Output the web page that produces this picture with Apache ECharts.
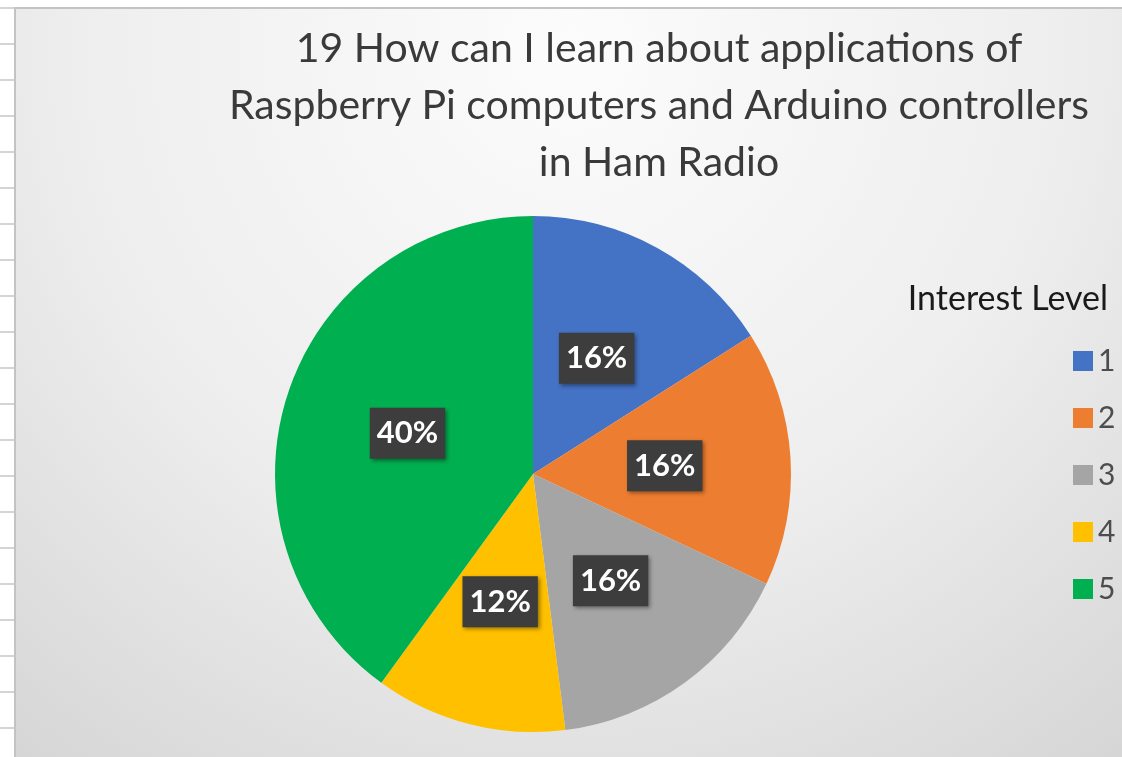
<!DOCTYPE html>
<html><head><meta charset="utf-8">
<script src="https://cdn.jsdelivr.net/npm/echarts@6/dist/echarts.min.js"></script>
<style>
html,body{margin:0;padding:0;width:1122px;height:757px;overflow:hidden;background:#fff;}
#strip{position:absolute;left:0;top:0;width:15px;height:757px;
 background:repeating-linear-gradient(to bottom,#fff 0px,#fff 7px,#d4d4d4 7px,#d4d4d4 9px,#fff 9px,#fff 36px);}
#chart{position:absolute;left:16px;top:9px;width:1106px;height:748px;box-shadow:-1px -1px 0 1px #c3c3c3;}
</style></head>
<body>
<div id="strip"></div>
<div id="chart"></div>
<script>
const categories = ['1', '2', '3', '4', '5'];
const percentValues = [16, 16, 16, 12, 40];
const sliceColors = ['#4472C4', '#ED7D31', '#A5A5A5', '#FFC000', '#00B050'];
const titleLines = ['19 How can I learn about applications of', 'Raspberry Pi computers and Arduino controllers', 'in Ham Radio'];
const legendTitle = 'Interest Level';

const chart = echarts.init(document.getElementById('chart'));
const FONT = 'Lato, "Open Sans", sans-serif';
chart.setOption({
  backgroundColor: new echarts.graphic.RadialGradient(0.5, 0.05, 1.2, [
    {offset: 0, color: '#fcfcfc'},
    {offset: 0.55, color: '#eeeeee'},
    {offset: 1, color: '#d6d6d6'}
  ]),
  title: [{
    text: titleLines.join('\n'),
    left: 638, top: 6, textAlign: 'center',
    textStyle: {fontFamily: FONT, fontSize: 41, fontWeight: 'normal', color: '#3a3a3a', lineHeight: 57}
  }, {
    text: legendTitle,
    right: 9, top: 268,
    textStyle: {fontFamily: FONT, fontSize: 34, fontWeight: 'normal', color: '#1a1a1a'}
  }],
  legend: {
    orient: 'vertical',
    left: 1052, top: 332,
    itemWidth: 20, itemHeight: 20, itemGap: 27,
    icon: 'rect',
    data: categories,
    textStyle: {fontFamily: FONT, fontSize: 30, color: '#4d4d4d', padding: [0, 0, 0, 0]}
  },
  series: [{
    type: 'pie',
    center: [517, 465],
    radius: 258,
    startAngle: 90,
    clockwise: true,
    silent: true,
    animation: false,
    color: sliceColors,
    itemStyle: {borderWidth: 0},
    label: {
      show: true,
      position: 'inside',
      formatter: '{c}%',
      fontFamily: FONT,
      fontSize: 31,
      fontWeight: 'bold',
      color: '#ffffff',
      backgroundColor: '#3d3d3d',
      padding: [11, 7, 9, 7],
      shadowColor: 'rgba(0,0,0,0.4)', shadowBlur: 4, shadowOffsetX: 2, shadowOffsetY: 2
    },
    labelLine: {show: false},
    data: categories.map((c, i) => ({name: c, value: percentValues[i]}))
  }]
});
</script>
</body></html>
